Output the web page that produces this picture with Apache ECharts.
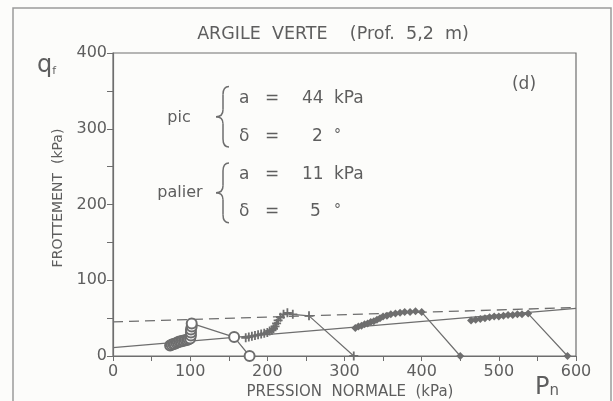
<!DOCTYPE html>
<html><head><meta charset="utf-8">
<script src="https://cdn.jsdelivr.net/npm/echarts@6/dist/echarts.min.js"></script>
<style>html,body{margin:0;padding:0;background:#fcfcfa}#c{width:613px;height:401px}</style>
</head><body><div id="c"></div>
<script>
// Tick values
const xTicks = [0, 100, 200, 300, 400, 500, 600];
const yTicks = [0, 100, 200, 300, 400];

// Test 1 (open circles)
const s1x = [74, 76, 78, 80, 82, 84, 86, 88, 90, 92, 94, 96, 98, 100, 101, 101, 101, 102, 102, 157, 177];
const s1y = [14, 15, 16, 16, 17, 18, 19, 19, 20, 20, 21, 21, 22, 23, 27, 31, 35, 39, 43, 25, 0];
// Test 2 (crosses)
const s2x = [172, 176, 180, 184, 188, 192, 196, 200, 203, 206, 208, 210, 212, 214, 217, 221, 226, 233, 254, 312];
const s2y = [24, 25, 26, 27, 28, 29, 30, 31, 33, 34, 36, 39, 43, 47, 51, 55, 57, 55, 53, 0];
// Test 3 (filled marks)
const s3x = [314, 318, 322, 326, 330, 334, 338, 342, 346, 350, 355, 360, 366, 372, 378, 385, 392, 400, 450];
const s3y = [37, 39, 40, 42, 43, 45, 46, 48, 50, 52, 53, 55, 56, 57, 58, 58, 59, 58, 0];
// Test 4 (filled marks)
const s4x = [464, 470, 476, 482, 488, 494, 500, 506, 512, 518, 524, 530, 538, 589];
const s4y = [47, 48, 49, 50, 51, 52, 52, 53, 54, 54, 55, 55, 56, 0];

// Envelopes (pic: dashed, palier: solid)
const picX = [0, 600], picY = [45, 64];
const palX = [0, 600], palY = [11, 63];

const zip = (a, b) => a.map((v, i) => [v, b[i]]);
const C = '#6e6e6e', T = '#5e5e5e', F = 'DejaVu Sans';

const chart = echarts.init(document.getElementById('c'), null, {renderer: 'canvas'});

const yv = v => 356 - 0.757 * v; // text placement helper (pixels)
const plus = 'path://M4,0H6V10H4ZM0,4H10V6H0Z';

function txt(x, y, s, size, align) {
  return {type: 'text', x: x, y: y, style: {text: s, font: (size || 17) + 'px "' + F + '"', fill: T, textAlign: align || 'left', textVerticalAlign: 'middle'}};
}
function brace(x, y0, y1) {
  const m = (y0 + y1) / 2, w = 7;
  const st = {stroke: C, lineWidth: 1.5, fill: null};
  const bz = (x1, y1_, x2, y2, cx, cy) => ({type: 'bezierCurve', shape: {x1: x1, y1: y1_, x2: x2, y2: y2, cpx1: cx, cpy1: cy}, style: st});
  const ln = (x1, y1_, x2, y2) => ({type: 'line', shape: {x1: x1, y1: y1_, x2: x2, y2: y2}, style: st});
  return {type: 'group', children: [
    bz(x + 6, y0, x, y0 + 8, x, y0),
    ln(x, y0 + 8, x, m - 7),
    bz(x, m - 7, x - w, m, x, m),
    bz(x - w, m, x, m + 7, x, m),
    ln(x, m + 7, x, y1 - 8),
    bz(x, y1 - 8, x + 6, y1, x, y1)
  ]};
}

chart.setOption({
  backgroundColor: '#fcfcfa',
  animation: false,
  grid: {left: 113, right: 37, top: 53, bottom: 45, show: true, borderColor: C, borderWidth: 1.2},
  xAxis: {type: 'value', min: xTicks[0], max: xTicks[xTicks.length - 1], interval: 100,
    axisLine: {onZero: false, lineStyle: {color: C, width: 1.2}},
    axisTick: {length: 5, lineStyle: {color: C}},
    minorTick: {show: true, splitNumber: 2, length: 5, lineStyle: {color: C}},
    splitLine: {show: false},
    axisLabel: {fontSize: 16, color: T, fontFamily: F, margin: 8}},
  yAxis: {type: 'value', min: yTicks[0], max: yTicks[yTicks.length - 1], interval: 100,
    axisLine: {onZero: false, lineStyle: {color: C, width: 1.2}},
    axisTick: {length: 6, lineStyle: {color: C}},
    minorTick: {show: true, splitNumber: 2, length: 6, lineStyle: {color: C}},
    splitLine: {show: false},
    axisLabel: {fontSize: 16, color: T, fontFamily: F, margin: 6}},
  graphic: [
    {type: 'rect', shape: {x: 13, y: 8, width: 598, height: 400}, style: {stroke: '#9a9a9a', lineWidth: 1.5, fill: null}},
    txt(333, 34, 'ARGILE  VERTE    (Prof.  5,2  m)', 17.5, 'center'),
    {type: 'text', x: 37, y: 66, style: {text: '{q|q}{f|f}', rich: {q: {fontSize: 24, fontFamily: F, fill: T}, f: {fontSize: 11, fontFamily: F, fill: T, padding: [10, 0, 0, 0]}}, fill: T, textVerticalAlign: 'middle'}},
    {type: 'text', x: 58, y: 198, rotation: Math.PI / 2, style: {text: 'FROTTEMENT  (kPa)', font: '14px "' + F + '"', fill: T, textAlign: 'center', textVerticalAlign: 'middle'}},
    txt(350, 392, 'PRESSION  NORMALE  (kPa)', 15, 'center'),
    {type: 'text', x: 535, y: 388, style: {text: '{p|P}{n|n}', rich: {p: {fontSize: 24, fontFamily: F, fill: T}, n: {fontSize: 15, fontFamily: F, fill: T, padding: [6, 0, 0, 0]}}, fill: T, textVerticalAlign: 'middle'}},
    txt(524, yv(358), '(d)', 17, 'center'),
    txt(179, yv(315), 'pic', 16, 'center'),
    brace(223, yv(356), yv(276)),
    txt(239, yv(340), 'a'), txt(265, yv(340), '='), txt(302, yv(340), '44'), txt(334, yv(340), 'kPa'),
    txt(239, yv(290), 'δ'), txt(265, yv(290), '='), txt(312, yv(290), '2'), txt(334, yv(292), '°', 14),
    txt(180, yv(215), 'palier', 16, 'center'),
    brace(223, yv(255), yv(176)),
    txt(239, yv(240), 'a'), txt(265, yv(240), '='), txt(302, yv(240), '11'), txt(334, yv(240), 'kPa'),
    txt(239, yv(191), 'δ'), txt(265, yv(191), '='), txt(310, yv(191), '5'), txt(334, yv(193), '°', 14)
  ],
  series: [
    {type: 'line', data: zip(picX, picY), symbol: 'none', lineStyle: {color: C, width: 1.3, type: [10, 6]}},
    {type: 'line', data: zip(palX, palY), symbol: 'none', lineStyle: {color: C, width: 1.3}},
    {type: 'line', data: zip(s1x, s1y), symbol: 'emptyCircle', symbolSize: 10,
      itemStyle: {color: C, borderColor: C, borderWidth: 1.4}, lineStyle: {color: C, width: 1.2}},
    {type: 'line', data: zip(s2x, s2y), symbol: plus, symbolSize: 9,
      itemStyle: {color: C}, lineStyle: {color: C, width: 1.2}},
    {type: 'line', data: zip(s3x, s3y), symbol: 'diamond', symbolSize: 8,
      itemStyle: {color: C}, lineStyle: {color: C, width: 1.2}},
    {type: 'line', data: zip(s4x, s4y), symbol: 'diamond', symbolSize: 8,
      itemStyle: {color: C}, lineStyle: {color: C, width: 1.2}}
  ]
});
</script></body></html>
